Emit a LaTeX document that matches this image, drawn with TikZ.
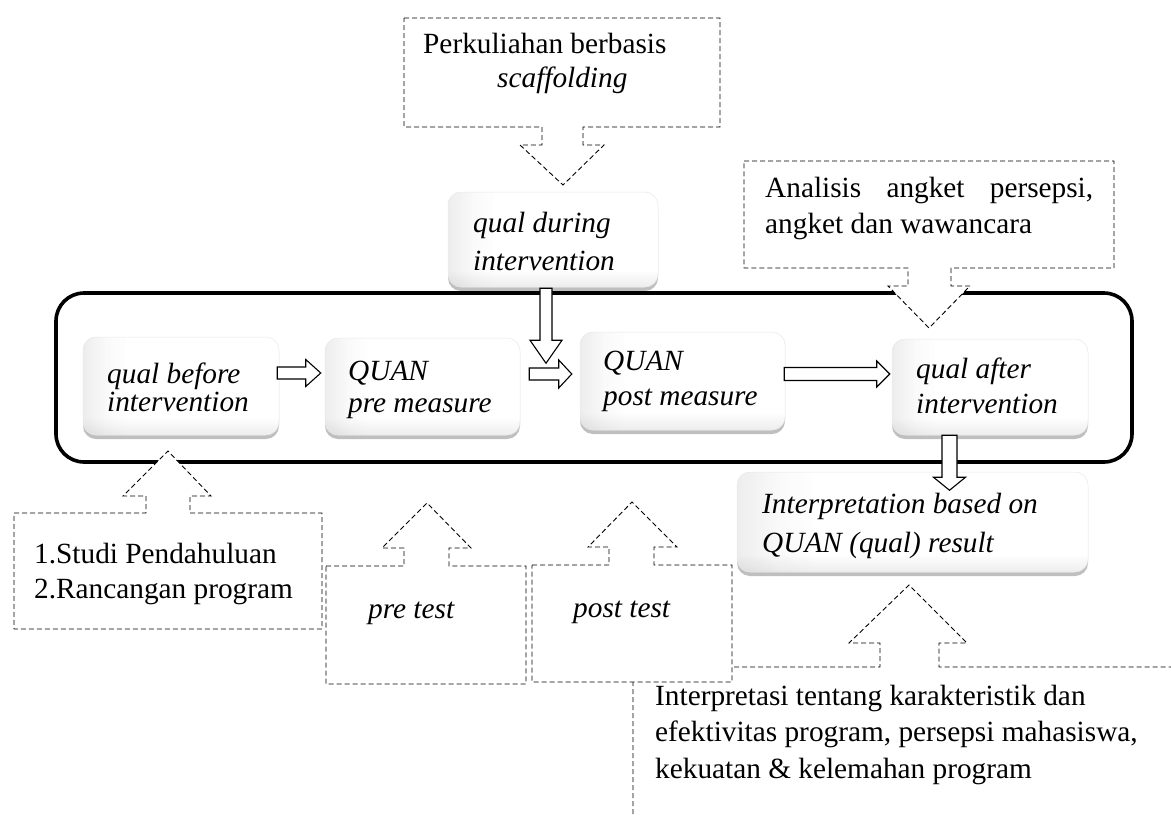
\documentclass[tikz,border=0pt]{standalone}
\usepackage{fontspec}
\setmainfont{Liberation Serif}
\usetikzlibrary{calc,shadows}
\pgfdeclarehorizontalshading{leftfade}{100bp}{color(0bp)=(gray!45); color(25bp)=(gray!45); color(31bp)=(gray!12); color(36bp)=(white); color(100bp)=(white)}
\pgfdeclareverticalshading{bottomfade}{100bp}{color(0bp)=(gray!30); color(25bp)=(gray!30); color(34bp)=(white); color(100bp)=(white)}
\newcommand{\twoln}[3]{\vtop{\baselineskip=#1\lineskiplimit=-50pt\hbox{#2}\hbox{#3}}}
\newcommand{\threeln}[4]{\vtop{\baselineskip=#1\lineskiplimit=-50pt\hbox{#2}\hbox{#3}\hbox{#4}}}
% right-pointing block arrow: #1 start, #2 tip, #3 head length, #4 stem half, #5 head half
\newcommand{\rarrow}[5]{\draw[barrow] let \p1=(#1), \p2=(#2) in
  (\x1,{\y1+#4}) -- ({\x2-#3},{\y1+#4}) -- ({\x2-#3},{\y1+#5}) -- (\x2,\y1)
  -- ({\x2-#3},{\y1-#5}) -- ({\x2-#3},{\y1-#4}) -- (\x1,{\y1-#4}) -- cycle;}
% down-pointing block arrow
\newcommand{\darrow}[5]{\draw[barrow] let \p1=(#1), \p2=(#2) in
  ({\x1-#4},\y1) -- ({\x1-#4},{\y2+#3}) -- ({\x1-#5},{\y2+#3}) -- (\x1,\y2)
  -- ({\x1+#5},{\y2+#3}) -- ({\x1+#4},{\y2+#3}) -- ({\x1+#4},\y1) -- cycle;}
\begin{document}
\begin{tikzpicture}[x=1pt,y=-1pt,
  every node/.style={inner sep=0pt, font=\fontsize{29.3}{35}\selectfont},
  txt/.style={anchor=base west},
  itxt/.style={anchor=base west, font=\fontsize{29.3}{35}\selectfont\itshape},
  gbox/.style={rounded corners=13pt, fill=white, draw=gray!18, line width=0.5pt,
    drop shadow={shadow xshift=0pt, shadow yshift=-4pt, opacity=0.25, fill=black},
    path picture={
      \shade[shading=leftfade, fill opacity=0.55]
        (path picture bounding box.south west) rectangle (path picture bounding box.north east);
      \shade[shading=bottomfade, fill opacity=0.45]
        (path picture bounding box.south west) rectangle (path picture bounding box.north east);
    }},
  barrow/.style={draw=black, fill=white, line width=1.1pt},
  bigframe/.style={draw=black, line width=3.6pt, rounded corners=28pt},
  callout/.style={draw=black, fill=white, line width=0.9pt, dash pattern=on 5pt off 3pt}
]
\useasboundingbox (0,0) rectangle (1171,817);
\clip (0,0) rectangle (1171,817);

% big frame
\draw[bigframe] (56,293) rectangle (1132,462);

% glossy boxes
\node[gbox, minimum width=210pt, minimum height=95pt] (qd) at (553,239.5) {};
\node[gbox, minimum width=196pt, minimum height=98pt] (qb) at (181,386) {};
\node[gbox, minimum width=195pt, minimum height=97pt] (qpre) at (422.5,386.5) {};
\node[gbox, minimum width=205pt, minimum height=98pt] (qpost) at (682.5,381) {};
\node[gbox, minimum width=196pt, minimum height=96pt] (qa) at (990,387) {};
\node[gbox, minimum width=351pt, minimum height=100pt] (interp) at (912.5,522) {};

% box labels
\node[itxt] (qd-t) at (473,232) {\twoln{38pt}{qual during}{intervention}};
\node[itxt] (qb-t) at (107,383) {\twoln{28pt}{qual before}{intervention}};
\node[itxt] (qpre-t) at (348,380) {\twoln{32pt}{QUAN}{pre measure}};
\node[itxt] (qpost-t) at (603,370) {\twoln{35pt}{QUAN}{post measure}};
\node[itxt] (qa-t) at (916,378) {\twoln{35pt}{qual after}{intervention}};
\node[itxt] (interp-t) at (762,513) {\twoln{39pt}{Interpretation based on}{QUAN (qual) result}};

% block arrows
\coordinate (a1s) at ($(qb.east)+(-2,-13)$);
\coordinate (a1e) at ($(qpre.west)+(-4,-13.5)$);
\coordinate (a2s) at ($(qpre.east)+(9,-12.5)$);
\coordinate (a2e) at ($(qpost.west)+(-8,-7)$);
\coordinate (a3s) at ($(qpost.east)+(-1,-7)$);
\coordinate (a3e) at ($(qa.west)+(-2,-13)$);
\coordinate (d1s) at ($(qd.south)+(-7,1)$);
\coordinate (d1e) at ($(qd.south)+(-7,76)$);
\coordinate (d2s) at ($(qa.south)+(-40.5,0)$);
\coordinate (d2e) at ($(qa.south)+(-40.5,55)$);
\rarrow{a1s}{a1e}{15pt}{6pt}{13.5pt}
\rarrow{a2s}{a2e}{13pt}{6pt}{14pt}
\rarrow{a3s}{a3e}{13pt}{6.5pt}{13pt}
\darrow{d1s}{d1e}{23pt}{6pt}{16pt}
\darrow{d2s}{d2e}{13pt}{7.5pt}{16pt}

% dashed callouts
\path[callout] (633,830) -- (633,667) -- (880,667) -- (880,643) -- (849,643) -- (909,585)
  -- (967,643) -- (939,643) -- (939,667) -- (1185,667) -- (1185,830) -- cycle;
\path[callout] (14,513) -- (146,513) -- (146,496) -- (123,496) -- (168,451) -- (211,496)
  -- (190,496) -- (190,513) -- (322,513) -- (322,629) -- (14,629) -- cycle;
\path[callout] (326,566) -- (404,566) -- (404,548) -- (382,548) -- (427,503) -- (471,548)
  -- (449,548) -- (449,566) -- (526,566) -- (526,684) -- (326,684) -- cycle;
\path[callout] (532,565) -- (609,565) -- (609,547) -- (588,547) -- (632,502) -- (677,547)
  -- (654,547) -- (654,565) -- (732,565) -- (732,682) -- (532,682) -- cycle;
\path[callout] (404,18) -- (720,18) -- (720,127) -- (583,127) -- (583,145) -- (604,145)
  -- (563,185) -- (520,145) -- (542,145) -- (542,127) -- (404,127) -- cycle;
\path[callout] (744,161) -- (1114,161) -- (1114,268) -- (951,268) -- (951,286) -- (970,286)
  -- (929,328) -- (888,286) -- (908,286) -- (908,268) -- (744,268) -- cycle;

% callout texts
\node[txt] (top-t) at (423,53) {\twoln{34pt}{Perkuliahan berbasis}{\hspace*{74pt}\itshape scaffolding}};
\node[txt] (rt-t) at (765,197) {\twoln{36pt}{\makebox[328pt][s]{Analisis angket persepsi,}}{angket dan wawancara}};
\node[txt] (left-t) at (34,563) {\twoln{35pt}{1.Studi Pendahuluan}{2.Rancangan program}};
\node[itxt] (pre-t) at (368,618) {pre test};
\node[itxt] (post-t) at (573,617) {post test};
\node[txt] (br-t) at (655,705) {\threeln{36.5pt}{Interpretasi tentang karakteristik dan}{efektivitas program, persepsi mahasiswa,}{kekuatan \& kelemahan program}};
\end{tikzpicture}
\end{document}
